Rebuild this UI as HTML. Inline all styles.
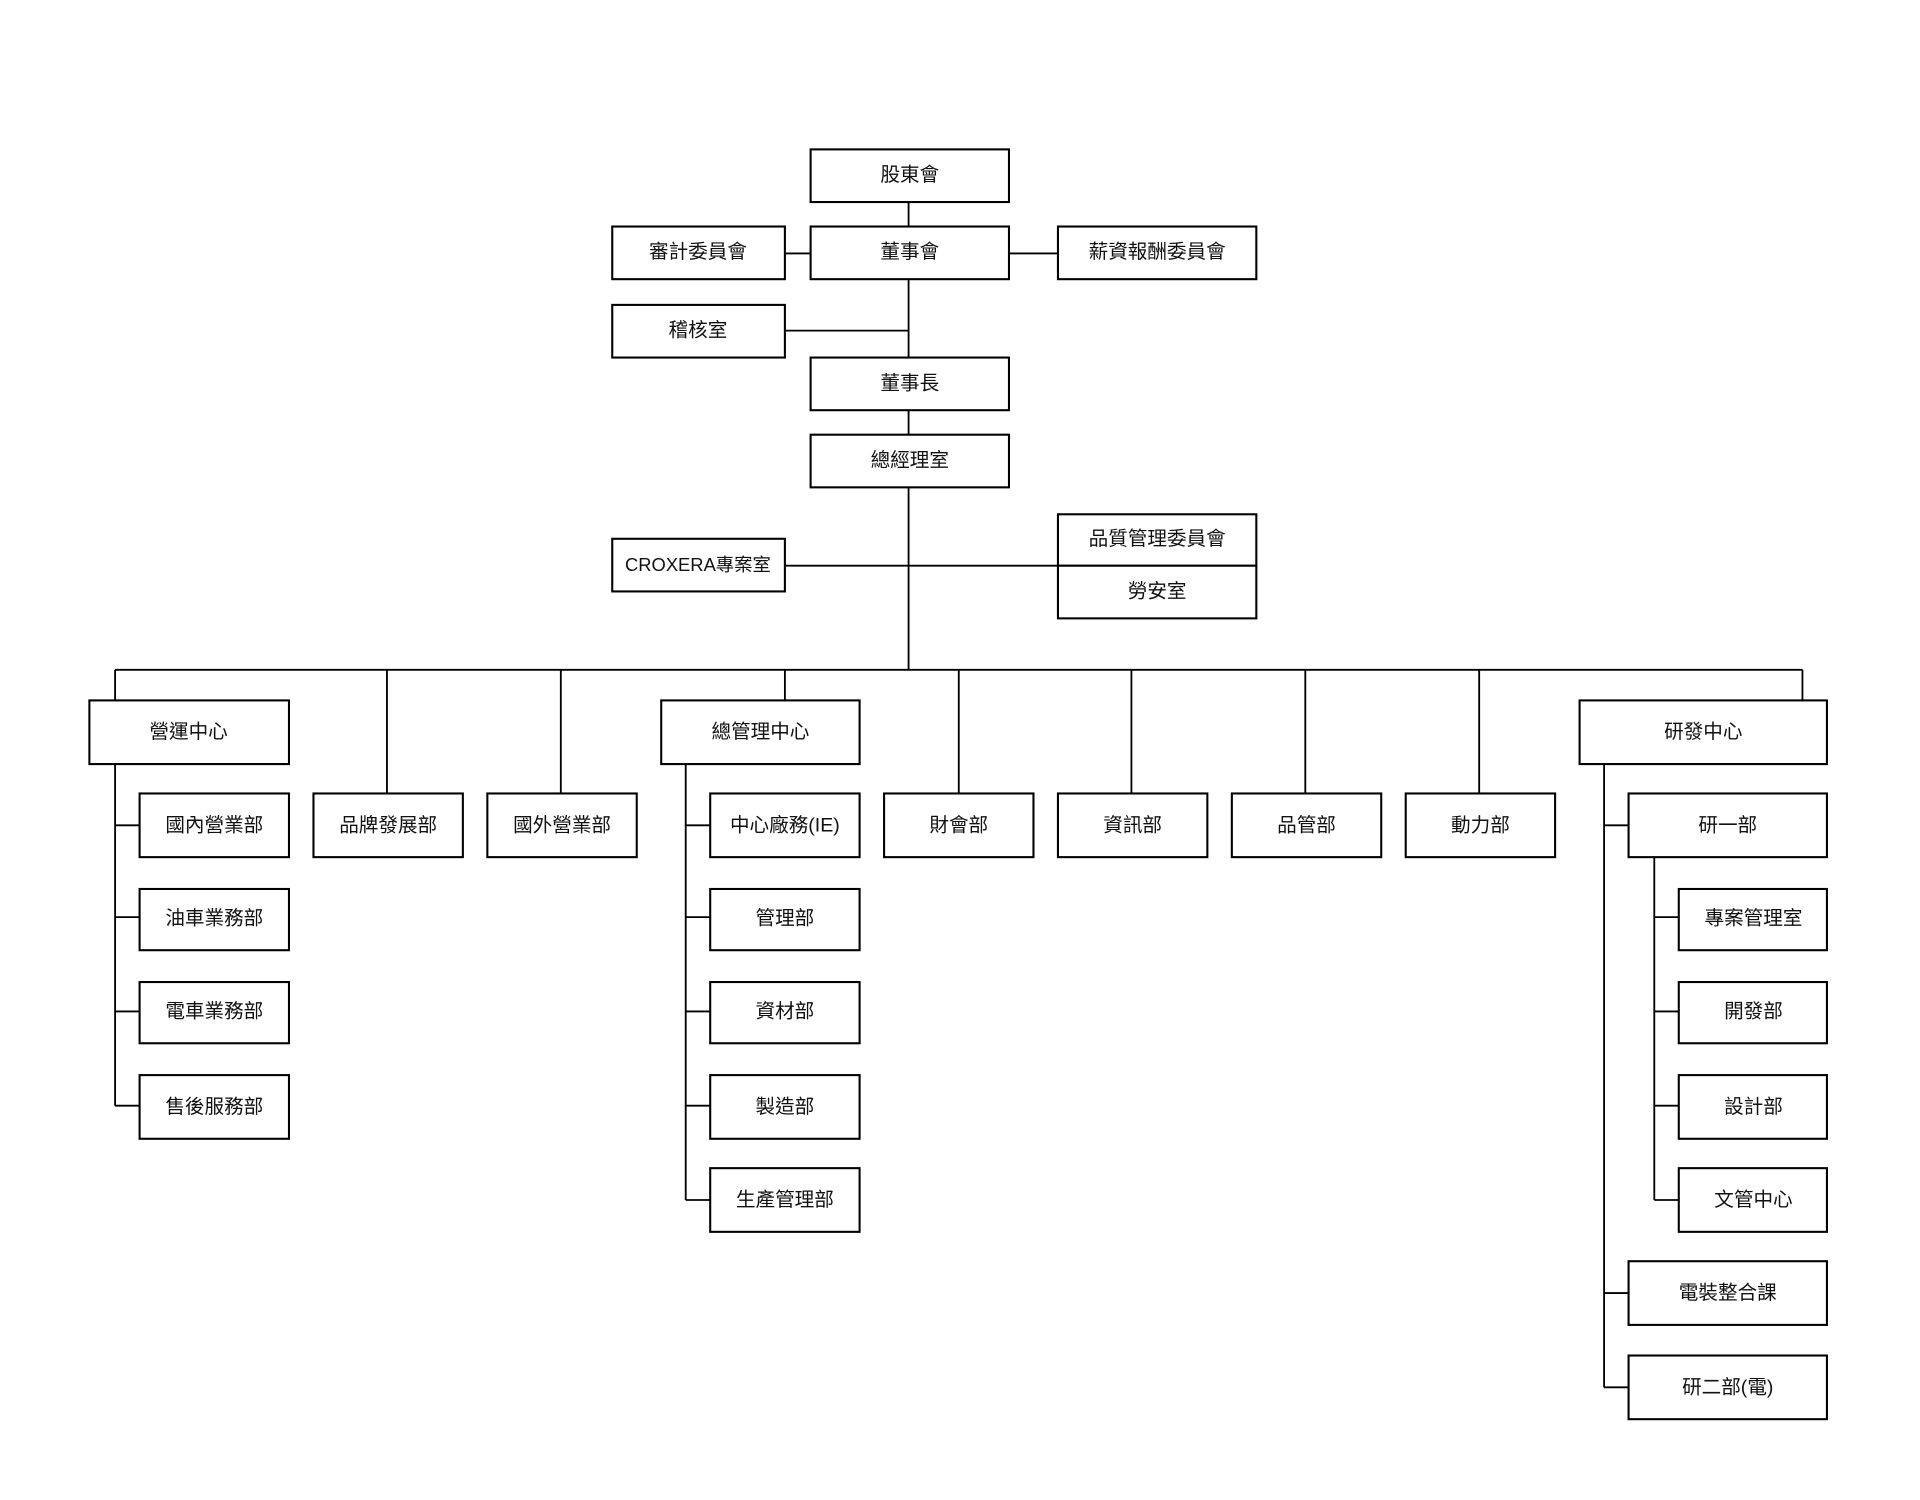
<!DOCTYPE html>
<html><head><meta charset="utf-8"><style>
html,body{margin:0;padding:0;background:#fff;}
svg{display:block}
text{font-family:"Liberation Sans","Noto Sans CJK TC",sans-serif;font-size:16px;fill:#111;text-anchor:middle;dominant-baseline:central}
rect{fill:#fff;stroke:#000;stroke-width:1.7}
line{stroke:#000;stroke-width:1.5}
</style></head><body>
<svg width="1920" height="1500" viewBox="0 0 1568 1225" preserveAspectRatio="none" xmlns="http://www.w3.org/2000/svg">
<g>
<line x1="742" y1="165" x2="742" y2="185"/>
<line x1="641" y1="207" x2="864" y2="207"/>
<line x1="742" y1="228" x2="742" y2="292"/>
<line x1="641" y1="270" x2="742" y2="270"/>
<line x1="742" y1="335" x2="742" y2="355"/>
<line x1="742" y1="398" x2="742" y2="547"/>
<line x1="641" y1="462" x2="864" y2="462"/>
<line x1="94" y1="547" x2="1472" y2="547"/>
<line x1="94" y1="547" x2="94" y2="572"/>
<line x1="316" y1="547" x2="316" y2="648"/>
<line x1="458" y1="547" x2="458" y2="648"/>
<line x1="641" y1="547" x2="641" y2="572"/>
<line x1="783" y1="547" x2="783" y2="648"/>
<line x1="924" y1="547" x2="924" y2="648"/>
<line x1="1066" y1="547" x2="1066" y2="648"/>
<line x1="1208" y1="547" x2="1208" y2="648"/>
<line x1="1472" y1="547" x2="1472" y2="572"/>
<line x1="94" y1="624" x2="94" y2="903"/>
<line x1="94" y1="674" x2="114" y2="674"/>
<line x1="94" y1="749" x2="114" y2="749"/>
<line x1="94" y1="826" x2="114" y2="826"/>
<line x1="94" y1="903" x2="114" y2="903"/>
<line x1="560" y1="624" x2="560" y2="980"/>
<line x1="560" y1="674" x2="580" y2="674"/>
<line x1="560" y1="749" x2="580" y2="749"/>
<line x1="560" y1="826" x2="580" y2="826"/>
<line x1="560" y1="903" x2="580" y2="903"/>
<line x1="560" y1="980" x2="580" y2="980"/>
<line x1="1310" y1="624" x2="1310" y2="1133"/>
<line x1="1310" y1="674" x2="1330" y2="674"/>
<line x1="1310" y1="1056" x2="1330" y2="1056"/>
<line x1="1310" y1="1133" x2="1330" y2="1133"/>
<line x1="1351" y1="700" x2="1351" y2="980"/>
<line x1="1351" y1="749" x2="1371" y2="749"/>
<line x1="1351" y1="826" x2="1371" y2="826"/>
<line x1="1351" y1="903" x2="1371" y2="903"/>
<line x1="1351" y1="980" x2="1371" y2="980"/>
</g>
<g>
<rect x="662" y="122" width="162" height="43"/><text x="743" y="143">股東會</text>
<rect x="662" y="185" width="162" height="43"/><text x="743" y="206">董事會</text>
<rect x="500" y="185" width="141" height="43"/><text x="570" y="206">審計委員會</text>
<rect x="864" y="185" width="162" height="43"/><text x="945" y="206">薪資報酬委員會</text>
<rect x="500" y="249" width="141" height="43"/><text x="570" y="270">稽核室</text>
<rect x="662" y="292" width="162" height="43"/><text x="743" y="313">董事長</text>
<rect x="662" y="355" width="162" height="43"/><text x="743" y="376">總經理室</text>
<rect x="500" y="440" width="141" height="43"/><text x="570" y="461" style="font-size:15px">CROXERA專案室</text>
<rect x="864" y="420" width="162" height="42"/><text x="945" y="440">品質管理委員會</text>
<rect x="864" y="462" width="162" height="43"/><text x="945" y="483">勞安室</text>

<rect x="73" y="572" width="163" height="52"/><text x="154" y="598">營運中心</text>
<rect x="114" y="648" width="122" height="52"/><text x="175" y="674">國內營業部</text>
<rect x="114" y="726" width="122" height="50"/><text x="175" y="750">油車業務部</text>
<rect x="114" y="802" width="122" height="50"/><text x="175" y="826">電車業務部</text>
<rect x="114" y="878" width="122" height="52"/><text x="175" y="904">售後服務部</text>
<rect x="256" y="648" width="122" height="52"/><text x="317" y="674">品牌發展部</text>
<rect x="398" y="648" width="122" height="52"/><text x="459" y="674">國外營業部</text>

<rect x="540" y="572" width="162" height="52"/><text x="621" y="598">總管理中心</text>
<rect x="580" y="648" width="122" height="52"/><text x="641" y="674">中心廠務(IE)</text>
<rect x="580" y="726" width="122" height="50"/><text x="641" y="750">管理部</text>
<rect x="580" y="802" width="122" height="50"/><text x="641" y="826">資材部</text>
<rect x="580" y="878" width="122" height="52"/><text x="641" y="904">製造部</text>
<rect x="580" y="954" width="122" height="52"/><text x="641" y="980">生產管理部</text>

<rect x="722" y="648" width="122" height="52"/><text x="783" y="674">財會部</text>
<rect x="864" y="648" width="122" height="52"/><text x="925" y="674">資訊部</text>
<rect x="1006" y="648" width="122" height="52"/><text x="1067" y="674">品管部</text>
<rect x="1148" y="648" width="122" height="52"/><text x="1209" y="674">動力部</text>

<rect x="1290" y="572" width="202" height="52"/><text x="1391" y="598">研發中心</text>
<rect x="1330" y="648" width="162" height="52"/><text x="1411" y="674">研一部</text>
<rect x="1371" y="726" width="121" height="50"/><text x="1432" y="750">專案管理室</text>
<rect x="1371" y="802" width="121" height="50"/><text x="1432" y="826">開發部</text>
<rect x="1371" y="878" width="121" height="52"/><text x="1432" y="904">設計部</text>
<rect x="1371" y="954" width="121" height="52"/><text x="1432" y="980">文管中心</text>
<rect x="1330" y="1030" width="162" height="52"/><text x="1411" y="1056">電裝整合課</text>
<rect x="1330" y="1107" width="162" height="52"/><text x="1411" y="1133">研二部(電)</text>
</g>
</svg>
</body></html>
